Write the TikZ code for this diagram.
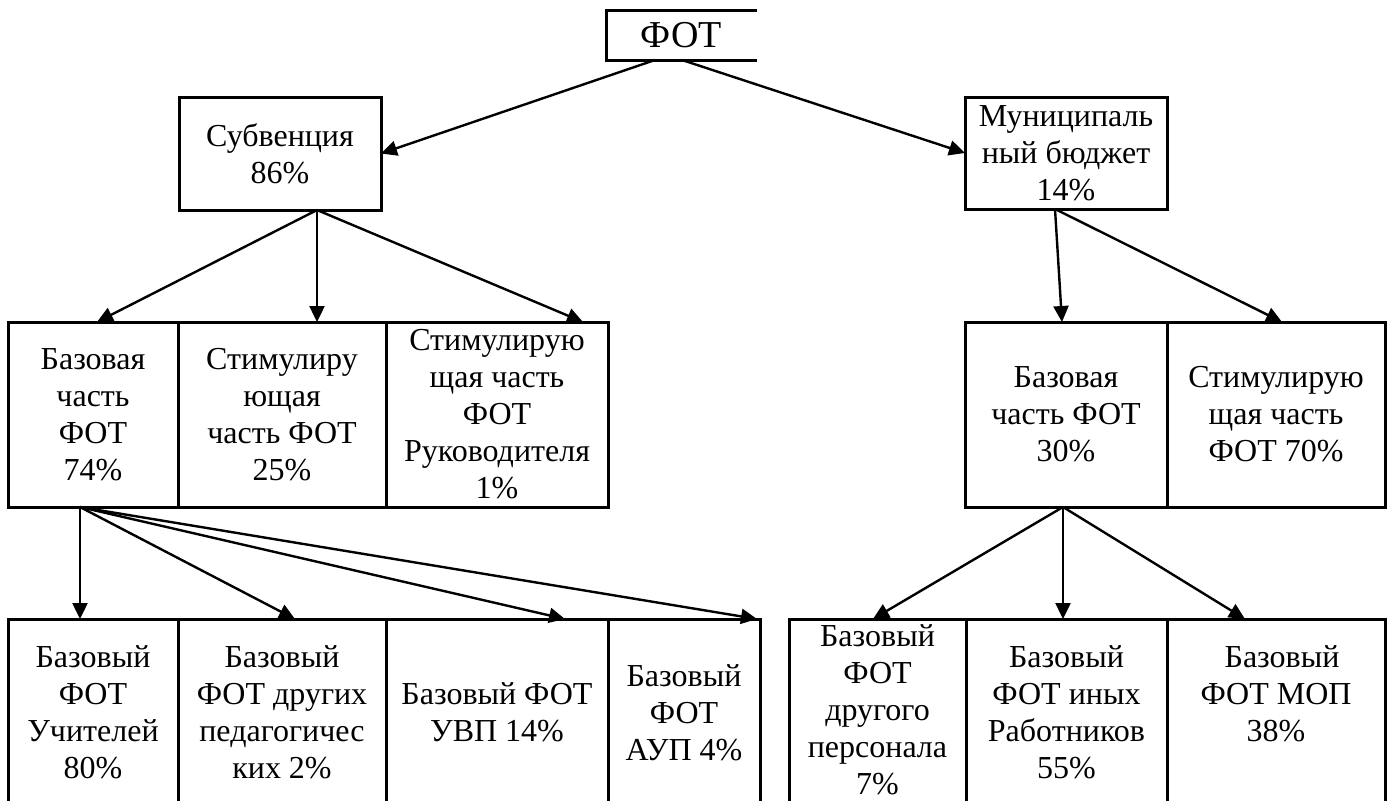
\documentclass[tikz,border=0pt]{standalone}
\usepackage{fontspec}
\setmainfont{Liberation Serif}
\usetikzlibrary{arrows.meta,calc}
\tikzset{
  box/.style={draw, line width=1.5pt, inner sep=0pt, outer sep=0pt, align=center,
    font=\fontsize{16}{18.5}\selectfont},
  row2/.style={box, minimum height=92.5pt},
  row3/.style={box, minimum height=93.5pt},
  arr/.style={line width=1.2pt, -{Triangle[length=8pt,width=7.5pt]}},
}
\begin{document}
\begin{tikzpicture}[x=0.5pt,y=-0.5pt]
\useasboundingbox (0,0) rectangle (1392,800);
\clip (0,0) rectangle (1392,800);
% top
\node[box, draw=none, minimum width=75.5pt, minimum height=25pt, font=\fontsize{19}{21}\selectfont] (fot) at (681.5,35) {ФОТ};
\draw[line width=1.5pt] (fot.north east) -- (fot.north west) -- (fot.south west) -- (fot.south east);
% level 1
\node[box, minimum width=101pt, minimum height=56.5pt] (sub) at (280,153.5) {Субвенция\\86\%};
\node[box, minimum width=101pt, minimum height=56pt] (mun) at (1066,153) {Муниципаль\\ный бюджет\\14\%};
% level 2 left
\node[row2, minimum width=85pt] (L2a) at (93,414.5) {Базовая\\часть\\ФОТ\\74\%};
\node[row2, minimum width=104pt] (L2b) at (282,414.5) {Стимулиру\\ющая\\часть ФОТ\\25\%};
\node[row2, minimum width=111pt] (L2c) at (497,414.5) {Стимулирую\\щая часть\\ФОТ\\Руководителя\\1\%};
% level 2 right
\node[row2, minimum width=101pt] (R2a) at (1066,414.5) {Базовая\\часть ФОТ\\30\%};
\node[row2, minimum width=109pt] (R2b) at (1276,414.5) {Стимулирую\\щая часть\\ФОТ 70\%};
% level 3 left
\node[row3, minimum width=85pt] (L3a) at (93,712.5) {Базовый\\ФОТ\\Учителей\\80\%};
\node[row3, minimum width=104pt] (L3b) at (282,712.5) {Базовый\\ФОТ других\\педагогичес\\ких 2\%};
\node[row3, minimum width=111pt] (L3c) at (497,712.5) {Базовый ФОТ\\УВП 14\%};
\node[row3, minimum width=76pt] (L3d) at (684,712.5) {Базовый\\ФОТ\\АУП 4\%};
% level 3 right
\node[row3, minimum width=88.5pt] (R3a) at (877.5,712.5) {\raisebox{0pt}[0pt][0pt]{}Базовый\\ФОТ\\другого\\персонала\\7\%\vspace*{3pt}};
\node[row3, minimum width=100.5pt] (R3b) at (1066.5,712.5) {Базовый\\ФОТ иных\\Работников\\55\%};
\node[row3, minimum width=109pt] (R3c) at (1276,712.5) {\hspace*{6pt}Базовый\\ФОТ МОП\\38\%\\\mbox{}};
% arrows
\draw[arr] ($(fot.south west)+(49,0)$) -- (sub.east);
\draw[arr] ($(fot.south west)+(76,0)$) -- (mun.west);
\draw[arr] ($(sub.south west)+(138,0)$) -- ($(L2a.north west)+(89,0)$);
\draw[arr] ($(sub.south west)+(138,0)$) -- ($(L2b.north west)+(139,0)$);
\draw[arr] ($(sub.south west)+(138,0)$) -- ($(L2c.north west)+(197,0)$);
\draw[arr] ($(mun.south west)+(90,0)$) -- ($(R2a.north west)+(97,0)$);
\draw[arr] ($(mun.south west)+(90,0)$) -- ($(R2b.north west)+(115,0)$);
\draw[arr] ($(L2a.south west)+(72,0)$) -- ($(L3a.north west)+(72,0)$);
\draw[arr] ($(L2a.south west)+(72,0)$) -- ($(L3b.north west)+(117,0)$);
\draw[arr] ($(L2a.south west)+(72,0)$) -- ($(L3c.north west)+(179,0)$);
\draw[arr] ($(L2a.south west)+(72,0)$) -- ($(L3d.north east)+(-3,0)$);
\draw[arr] ($(R2a.south west)+(98,0)$) -- ($(R3a.north west)+(84,0)$);
\draw[arr] ($(R2a.south west)+(98,0)$) -- ($(R3b.north west)+(97,0)$);
\draw[arr] ($(R2a.south west)+(98,0)$) -- ($(R3c.north west)+(78,0)$);
\end{tikzpicture}
\end{document}
